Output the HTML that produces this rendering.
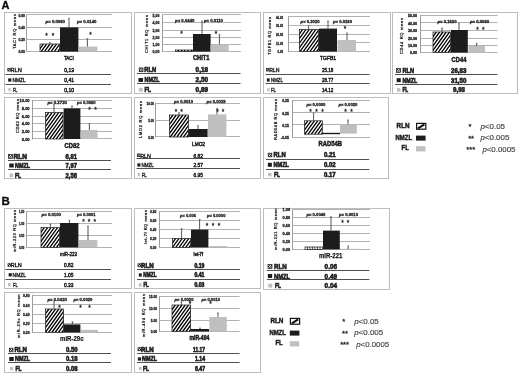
<!DOCTYPE html>
<html lang="en"><head><meta charset="utf-8"><title>Figure</title>
<style>html,body{margin:0;padding:0;background:#fff;}svg{display:block;}text{font-family:'Liberation Sans', sans-serif;}</style>
</head><body>
<svg width="520" height="375" viewBox="0 0 520 375" font-family="Liberation Sans, sans-serif" fill="#111">
<defs>
</defs>
<rect width="520" height="375" fill="#fff"/>
<g stroke="#222" stroke-width="0.32">
<text x="1.60" y="9.10" font-size="11" font-weight="bold" fill="#000">A</text>
<text x="1.60" y="204.60" font-size="11.5" font-weight="bold" fill="#000">B</text>
<rect x="4.50" y="12.50" width="127.00" height="81.00" fill="#fff" stroke="#bdbdbd" stroke-width="1"/>
<line x1="27.00" y1="14.50" x2="112.00" y2="14.50" stroke="#b2b2b2" stroke-width="1"/>
<line x1="27.00" y1="27.50" x2="112.00" y2="27.50" stroke="#b2b2b2" stroke-width="1"/>
<line x1="27.00" y1="39.50" x2="112.00" y2="39.50" stroke="#b2b2b2" stroke-width="1"/>
<line x1="27.00" y1="51.50" x2="112.00" y2="51.50" stroke="#b2b2b2" stroke-width="1"/>
<line x1="26.50" y1="14.50" x2="26.50" y2="52.10" stroke="#9c9c9c" stroke-width="1"/>
<text x="18.40" y="16.51" font-size="4.2" font-weight="bold" textLength="6.60" lengthAdjust="spacingAndGlyphs" fill="#222">0.60</text>
<text x="18.40" y="28.91" font-size="4.2" font-weight="bold" textLength="6.60" lengthAdjust="spacingAndGlyphs" fill="#222">0.40</text>
<text x="18.40" y="41.11" font-size="4.2" font-weight="bold" textLength="6.60" lengthAdjust="spacingAndGlyphs" fill="#222">0.20</text>
<text x="18.40" y="53.11" font-size="4.2" font-weight="bold" textLength="6.60" lengthAdjust="spacingAndGlyphs" fill="#222">0.00</text>
<text transform="translate(16.44,31.50) rotate(-90)" font-size="4.0" text-anchor="middle" textLength="35.00" lengthAdjust="spacing" fill="#333" stroke-width="0.25">TACI RQ mean</text>
<clipPath id="hc1"><rect x="40.00" y="44.00" width="19.60" height="7.60"/></clipPath>
<rect x="40.00" y="44.00" width="19.60" height="7.60" fill="#fff" stroke="none"/>
<path clip-path="url(#hc1)" d="M34.55,51.60 L40.00,44.00 M37.85,51.60 L43.30,44.00 M41.15,51.60 L46.60,44.00 M44.45,51.60 L49.90,44.00 M47.75,51.60 L53.20,44.00 M51.05,51.60 L56.50,44.00 M54.35,51.60 L59.80,44.00 M57.65,51.60 L63.10,44.00 M60.95,51.60 L66.40,44.00" stroke="#000" stroke-width="1.3" fill="none"/>
<rect x="40.00" y="44.00" width="19.60" height="7.60" fill="none" stroke="#111" stroke-width="0.7"/>
<rect x="60.00" y="27.40" width="18.40" height="24.20" fill="#1c1c1c" stroke="none"/>
<rect x="78.60" y="46.60" width="18.80" height="5.00" fill="#bfbfbf" stroke="none"/>
<line x1="50.00" y1="42.40" x2="50.00" y2="44.00" stroke="#444" stroke-width="0.9"/>
<line x1="49.10" y1="42.40" x2="50.90" y2="42.40" stroke="#444" stroke-width="0.6"/>
<line x1="69.00" y1="18.40" x2="69.00" y2="27.40" stroke="#444" stroke-width="0.9"/>
<line x1="68.10" y1="18.40" x2="69.90" y2="18.40" stroke="#444" stroke-width="0.6"/>
<line x1="87.40" y1="38.60" x2="87.40" y2="46.60" stroke="#444" stroke-width="0.9"/>
<line x1="86.50" y1="38.60" x2="88.30" y2="38.60" stroke="#444" stroke-width="0.6"/>
<text x="45.60" y="22.83" font-size="4.25" font-weight="bold" textLength="19.40" lengthAdjust="spacingAndGlyphs" fill="#222" stroke-width="0.3"><tspan font-style="italic">p</tspan>= 0.0060</text>
<text x="77.00" y="22.83" font-size="4.25" font-weight="bold" textLength="19.40" lengthAdjust="spacingAndGlyphs" fill="#222" stroke-width="0.3"><tspan font-style="italic">p</tspan>= 0.0140</text>
<text x="46.60" y="37.94" font-size="6.5" text-anchor="middle" fill="#222" stroke-width="0.3">*</text>
<text x="53.00" y="37.94" font-size="6.5" text-anchor="middle" fill="#222" stroke-width="0.3">*</text>
<text x="90.60" y="37.34" font-size="6.5" text-anchor="middle" fill="#222" stroke-width="0.3">*</text>
<text x="63.90" y="59.74" font-size="6.216" textLength="9.90" lengthAdjust="spacingAndGlyphs" stroke-width="0.5">TACI</text>
<line x1="5.40" y1="74.50" x2="111.00" y2="74.50" stroke="#505050" stroke-width="1.0"/>
<line x1="5.40" y1="84.50" x2="111.00" y2="84.50" stroke="#505050" stroke-width="1.0"/>
<clipPath id="hc2"><rect x="7.80" y="68.55" width="2.50" height="2.50"/></clipPath>
<rect x="7.80" y="68.55" width="2.50" height="2.50" fill="#fff" stroke="none"/>
<path clip-path="url(#hc2)" d="M5.70,71.05 L7.80,68.55 M7.80,71.05 L9.90,68.55 M9.90,71.05 L12.00,68.55 M12.00,71.05 L14.10,68.55" stroke="#000" stroke-width="0.95" fill="none"/>
<rect x="7.80" y="68.55" width="2.50" height="2.50" fill="none" stroke="#111" stroke-width="0.7"/>
<text x="10.50" y="72.04" font-size="6.216" textLength="11.30" lengthAdjust="spacingAndGlyphs" stroke-width="0.4">RLN</text>
<text x="64.30" y="72.04" font-size="6.216" textLength="9.70" lengthAdjust="spacingAndGlyphs" stroke-width="0.5">0,13</text>
<rect x="8.15" y="78.35" width="3.20" height="3.30" fill="#1c1c1c" stroke="none"/>
<text x="12.40" y="82.24" font-size="6.216" textLength="13.20" lengthAdjust="spacingAndGlyphs" stroke-width="0.4">NMZL</text>
<text x="64.30" y="82.24" font-size="6.216" textLength="9.70" lengthAdjust="spacingAndGlyphs" stroke-width="0.5">0,41</text>
<rect x="8.35" y="87.95" width="2.30" height="3.30" fill="#bfbfbf" stroke="none"/>
<text x="12.90" y="91.84" font-size="6.216" textLength="4.50" lengthAdjust="spacingAndGlyphs" stroke-width="0.4">FL</text>
<text x="64.30" y="91.84" font-size="6.216" textLength="9.70" lengthAdjust="spacingAndGlyphs" stroke-width="0.5">0,10</text>
<rect x="134.50" y="12.50" width="126.00" height="81.00" fill="#fff" stroke="#bdbdbd" stroke-width="1"/>
<line x1="162.40" y1="14.50" x2="241.00" y2="14.50" stroke="#b2b2b2" stroke-width="1"/>
<line x1="162.40" y1="22.50" x2="241.00" y2="22.50" stroke="#b2b2b2" stroke-width="1"/>
<line x1="162.40" y1="30.50" x2="241.00" y2="30.50" stroke="#b2b2b2" stroke-width="1"/>
<line x1="162.40" y1="37.50" x2="241.00" y2="37.50" stroke="#b2b2b2" stroke-width="1"/>
<line x1="162.40" y1="44.50" x2="241.00" y2="44.50" stroke="#b2b2b2" stroke-width="1"/>
<line x1="162.40" y1="51.50" x2="241.00" y2="51.50" stroke="#b2b2b2" stroke-width="1"/>
<line x1="162.50" y1="14.50" x2="162.50" y2="52.10" stroke="#9c9c9c" stroke-width="1"/>
<text x="152.60" y="16.51" font-size="4.2" font-weight="bold" textLength="6.80" lengthAdjust="spacingAndGlyphs" fill="#222">5,00</text>
<text x="152.60" y="24.11" font-size="4.2" font-weight="bold" textLength="6.80" lengthAdjust="spacingAndGlyphs" fill="#222">4,00</text>
<text x="152.60" y="31.51" font-size="4.2" font-weight="bold" textLength="6.80" lengthAdjust="spacingAndGlyphs" fill="#222">3,00</text>
<text x="152.60" y="38.91" font-size="4.2" font-weight="bold" textLength="6.80" lengthAdjust="spacingAndGlyphs" fill="#222">2,00</text>
<text x="152.60" y="45.91" font-size="4.2" font-weight="bold" textLength="6.80" lengthAdjust="spacingAndGlyphs" fill="#222">1,00</text>
<text x="152.60" y="53.11" font-size="4.2" font-weight="bold" textLength="6.80" lengthAdjust="spacingAndGlyphs" fill="#222">0,00</text>
<text transform="translate(147.84,34.00) rotate(-90)" font-size="4.0" text-anchor="middle" textLength="38.00" lengthAdjust="spacing" fill="#333" stroke-width="0.25">CHIT1 RQ mean</text>
<clipPath id="hc3"><rect x="175.40" y="50.00" width="17.60" height="1.60"/></clipPath>
<rect x="175.40" y="50.00" width="17.60" height="1.60" fill="#fff" stroke="none"/>
<path clip-path="url(#hc3)" d="M174.25,51.60 L175.40,50.00 M177.55,51.60 L178.70,50.00 M180.85,51.60 L182.00,50.00 M184.15,51.60 L185.30,50.00 M187.45,51.60 L188.60,50.00 M190.75,51.60 L191.90,50.00 M194.05,51.60 L195.20,50.00" stroke="#000" stroke-width="1.3" fill="none"/>
<rect x="175.40" y="50.00" width="17.60" height="1.60" fill="none" stroke="#111" stroke-width="0.7"/>
<rect x="193.00" y="34.00" width="17.60" height="17.60" fill="#1c1c1c" stroke="none"/>
<rect x="210.60" y="44.40" width="18.00" height="7.20" fill="#bfbfbf" stroke="none"/>
<line x1="202.00" y1="21.00" x2="202.00" y2="34.00" stroke="#444" stroke-width="0.9"/>
<line x1="201.10" y1="21.00" x2="202.90" y2="21.00" stroke="#444" stroke-width="0.6"/>
<line x1="219.40" y1="34.40" x2="219.40" y2="44.40" stroke="#444" stroke-width="0.9"/>
<line x1="218.50" y1="34.40" x2="220.30" y2="34.40" stroke="#444" stroke-width="0.6"/>
<text x="175.00" y="21.63" font-size="4.25" font-weight="bold" textLength="19.40" lengthAdjust="spacingAndGlyphs" fill="#222" stroke-width="0.3"><tspan font-style="italic">p</tspan>= 0.0440</text>
<text x="204.00" y="21.63" font-size="4.25" font-weight="bold" textLength="19.00" lengthAdjust="spacingAndGlyphs" fill="#222" stroke-width="0.3"><tspan font-style="italic">p</tspan>= 0.0110</text>
<text x="181.60" y="35.64" font-size="6.5" text-anchor="middle" fill="#222" stroke-width="0.3">*</text>
<text x="216.00" y="35.64" font-size="6.5" text-anchor="middle" fill="#222" stroke-width="0.3">*</text>
<text x="193.00" y="60.40" font-size="6.66" font-weight="bold" textLength="16.40" lengthAdjust="spacingAndGlyphs" stroke-width="0.5">CHIT1</text>
<line x1="137.00" y1="73.50" x2="240.50" y2="73.50" stroke="#505050" stroke-width="1.0"/>
<line x1="137.00" y1="83.50" x2="240.50" y2="83.50" stroke="#505050" stroke-width="1.0"/>
<clipPath id="hc4"><rect x="139.20" y="67.90" width="3.80" height="3.80"/></clipPath>
<rect x="139.20" y="67.90" width="3.80" height="3.80" fill="#fff" stroke="none"/>
<path clip-path="url(#hc4)" d="M136.01,71.70 L139.20,67.90 M138.11,71.70 L141.30,67.90 M140.21,71.70 L143.40,67.90 M142.31,71.70 L145.50,67.90 M144.41,71.70 L147.60,67.90" stroke="#000" stroke-width="0.95" fill="none"/>
<rect x="139.20" y="67.90" width="3.80" height="3.80" fill="none" stroke="#111" stroke-width="0.7"/>
<text x="144.20" y="72.24" font-size="6.771" font-weight="bold" textLength="12.00" lengthAdjust="spacingAndGlyphs" stroke-width="0.6">RLN</text>
<text x="195.60" y="72.24" font-size="6.771" font-weight="bold" textLength="12.40" lengthAdjust="spacingAndGlyphs" stroke-width="0.6">0,18</text>
<rect x="138.45" y="78.00" width="4.60" height="4.00" fill="#1c1c1c" stroke="none"/>
<text x="144.50" y="82.44" font-size="6.771" font-weight="bold" textLength="15.00" lengthAdjust="spacingAndGlyphs" stroke-width="0.6">NMZL</text>
<text x="195.60" y="82.44" font-size="6.771" font-weight="bold" textLength="12.40" lengthAdjust="spacingAndGlyphs" stroke-width="0.6">2,50</text>
<rect x="138.85" y="87.90" width="3.80" height="3.80" fill="#bfbfbf" stroke="none"/>
<text x="144.50" y="92.24" font-size="6.771" font-weight="bold" textLength="6.50" lengthAdjust="spacingAndGlyphs" stroke-width="0.6">FL</text>
<text x="195.60" y="92.24" font-size="6.771" font-weight="bold" textLength="12.40" lengthAdjust="spacingAndGlyphs" stroke-width="0.6">0,89</text>
<rect x="263.50" y="12.50" width="127.00" height="81.00" fill="#fff" stroke="#bdbdbd" stroke-width="1"/>
<line x1="288.00" y1="16.50" x2="370.00" y2="16.50" stroke="#b2b2b2" stroke-width="1"/>
<line x1="288.00" y1="25.50" x2="370.00" y2="25.50" stroke="#b2b2b2" stroke-width="1"/>
<line x1="288.00" y1="34.50" x2="370.00" y2="34.50" stroke="#b2b2b2" stroke-width="1"/>
<line x1="288.00" y1="42.50" x2="370.00" y2="42.50" stroke="#b2b2b2" stroke-width="1"/>
<line x1="288.00" y1="51.50" x2="370.00" y2="51.50" stroke="#b2b2b2" stroke-width="1"/>
<line x1="288.50" y1="16.50" x2="288.50" y2="52.10" stroke="#9c9c9c" stroke-width="1"/>
<text x="276.00" y="18.51" font-size="4.2" font-weight="bold" textLength="7.00" lengthAdjust="spacingAndGlyphs" fill="#222">40.00</text>
<text x="276.00" y="26.91" font-size="4.2" font-weight="bold" textLength="7.00" lengthAdjust="spacingAndGlyphs" fill="#222">30.00</text>
<text x="276.00" y="35.51" font-size="4.2" font-weight="bold" textLength="7.00" lengthAdjust="spacingAndGlyphs" fill="#222">20.00</text>
<text x="276.00" y="44.51" font-size="4.2" font-weight="bold" textLength="7.00" lengthAdjust="spacingAndGlyphs" fill="#222">10.00</text>
<text x="277.56" y="53.11" font-size="4.2" font-weight="bold" textLength="5.44" lengthAdjust="spacingAndGlyphs" fill="#222">0.00</text>
<text transform="translate(271.44,36.00) rotate(-90)" font-size="4.0" text-anchor="middle" textLength="38.00" lengthAdjust="spacing" fill="#333" stroke-width="0.25">TGFB1 RQ mean</text>
<clipPath id="hc5"><rect x="299.40" y="29.40" width="19.20" height="22.20"/></clipPath>
<rect x="299.40" y="29.40" width="19.20" height="22.20" fill="#fff" stroke="none"/>
<path clip-path="url(#hc5)" d="M283.47,51.60 L299.40,29.40 M286.77,51.60 L302.70,29.40 M290.07,51.60 L306.00,29.40 M293.37,51.60 L309.30,29.40 M296.67,51.60 L312.60,29.40 M299.97,51.60 L315.90,29.40 M303.27,51.60 L319.20,29.40 M306.57,51.60 L322.50,29.40 M309.87,51.60 L325.80,29.40 M313.17,51.60 L329.10,29.40 M316.47,51.60 L332.40,29.40 M319.77,51.60 L335.70,29.40" stroke="#000" stroke-width="1.3" fill="none"/>
<rect x="299.40" y="29.40" width="19.20" height="22.20" fill="none" stroke="#111" stroke-width="0.7"/>
<rect x="319.00" y="28.60" width="18.00" height="23.00" fill="#1c1c1c" stroke="none"/>
<rect x="337.60" y="40.00" width="18.40" height="11.60" fill="#bfbfbf" stroke="none"/>
<line x1="308.60" y1="25.60" x2="308.60" y2="29.40" stroke="#444" stroke-width="0.9"/>
<line x1="307.70" y1="25.60" x2="309.50" y2="25.60" stroke="#444" stroke-width="0.6"/>
<line x1="328.00" y1="21.00" x2="328.00" y2="28.60" stroke="#444" stroke-width="0.9"/>
<line x1="327.10" y1="21.00" x2="328.90" y2="21.00" stroke="#444" stroke-width="0.6"/>
<line x1="347.00" y1="33.00" x2="347.00" y2="40.00" stroke="#444" stroke-width="0.9"/>
<line x1="346.10" y1="33.00" x2="347.90" y2="33.00" stroke="#444" stroke-width="0.6"/>
<text x="300.60" y="22.83" font-size="4.25" font-weight="bold" textLength="19.00" lengthAdjust="spacingAndGlyphs" fill="#222" stroke-width="0.3"><tspan font-style="italic">p</tspan>= 0.3020</text>
<text x="333.00" y="22.83" font-size="4.25" font-weight="bold" textLength="19.00" lengthAdjust="spacingAndGlyphs" fill="#222" stroke-width="0.3"><tspan font-style="italic">p</tspan>= 0.0160</text>
<text x="345.00" y="31.24" font-size="6.5" text-anchor="middle" fill="#222" stroke-width="0.3">*</text>
<text x="320.00" y="60.44" font-size="6.216" textLength="16.00" lengthAdjust="spacingAndGlyphs" stroke-width="0.5">TGFB1</text>
<line x1="265.50" y1="74.50" x2="369.60" y2="74.50" stroke="#505050" stroke-width="1.0"/>
<line x1="265.50" y1="83.50" x2="369.60" y2="83.50" stroke="#505050" stroke-width="1.0"/>
<clipPath id="hc6"><rect x="266.60" y="68.60" width="2.40" height="2.40"/></clipPath>
<rect x="266.60" y="68.60" width="2.40" height="2.40" fill="#fff" stroke="none"/>
<path clip-path="url(#hc6)" d="M264.58,71.00 L266.60,68.60 M266.68,71.00 L268.70,68.60 M268.78,71.00 L270.80,68.60 M270.88,71.00 L272.90,68.60" stroke="#000" stroke-width="0.95" fill="none"/>
<rect x="266.60" y="68.60" width="2.40" height="2.40" fill="none" stroke="#111" stroke-width="0.7"/>
<text x="269.20" y="72.04" font-size="6.216" textLength="10.40" lengthAdjust="spacingAndGlyphs" stroke-width="0.4">RLN</text>
<text x="322.00" y="72.04" font-size="6.216" textLength="11.40" lengthAdjust="spacingAndGlyphs" stroke-width="0.5">25.18</text>
<rect x="266.85" y="78.35" width="2.80" height="3.30" fill="#1c1c1c" stroke="none"/>
<text x="271.00" y="82.24" font-size="6.216" textLength="11.80" lengthAdjust="spacingAndGlyphs" stroke-width="0.4">NMZL</text>
<text x="322.00" y="82.24" font-size="6.216" textLength="11.40" lengthAdjust="spacingAndGlyphs" stroke-width="0.5">28.77</text>
<rect x="267.35" y="88.15" width="2.30" height="3.30" fill="#bfbfbf" stroke="none"/>
<text x="271.00" y="92.04" font-size="6.216" textLength="5.00" lengthAdjust="spacingAndGlyphs" stroke-width="0.4">FL</text>
<text x="322.00" y="92.04" font-size="6.216" textLength="11.40" lengthAdjust="spacingAndGlyphs" stroke-width="0.5">14.12</text>
<rect x="392.50" y="12.50" width="125.00" height="81.00" fill="#fff" stroke="#bdbdbd" stroke-width="1"/>
<line x1="420.00" y1="15.50" x2="497.60" y2="15.50" stroke="#b2b2b2" stroke-width="1"/>
<line x1="420.00" y1="22.50" x2="497.60" y2="22.50" stroke="#b2b2b2" stroke-width="1"/>
<line x1="420.00" y1="30.50" x2="497.60" y2="30.50" stroke="#b2b2b2" stroke-width="1"/>
<line x1="420.00" y1="38.50" x2="497.60" y2="38.50" stroke="#b2b2b2" stroke-width="1"/>
<line x1="420.00" y1="45.50" x2="497.60" y2="45.50" stroke="#b2b2b2" stroke-width="1"/>
<line x1="420.00" y1="52.50" x2="497.60" y2="52.50" stroke="#b2b2b2" stroke-width="1"/>
<line x1="420.50" y1="14.90" x2="420.50" y2="53.10" stroke="#9c9c9c" stroke-width="1"/>
<text x="408.00" y="16.91" font-size="4.2" font-weight="bold" textLength="9.00" lengthAdjust="spacingAndGlyphs" fill="#222">50.00</text>
<text x="408.00" y="24.51" font-size="4.2" font-weight="bold" textLength="9.00" lengthAdjust="spacingAndGlyphs" fill="#222">40.00</text>
<text x="408.00" y="31.91" font-size="4.2" font-weight="bold" textLength="9.00" lengthAdjust="spacingAndGlyphs" fill="#222">30.00</text>
<text x="408.00" y="39.51" font-size="4.2" font-weight="bold" textLength="9.00" lengthAdjust="spacingAndGlyphs" fill="#222">20.00</text>
<text x="408.00" y="46.91" font-size="4.2" font-weight="bold" textLength="9.00" lengthAdjust="spacingAndGlyphs" fill="#222">10.00</text>
<text x="410.00" y="54.11" font-size="4.2" font-weight="bold" textLength="7.00" lengthAdjust="spacingAndGlyphs" fill="#222">0.00</text>
<text transform="translate(403.04,36.00) rotate(-90)" font-size="4.0" text-anchor="middle" textLength="36.00" lengthAdjust="spacing" fill="#333" stroke-width="0.25">CD44 RQ mean</text>
<clipPath id="hc7"><rect x="433.00" y="32.00" width="17.60" height="20.60"/></clipPath>
<rect x="433.00" y="32.00" width="17.60" height="20.60" fill="#fff" stroke="none"/>
<path clip-path="url(#hc7)" d="M418.22,52.60 L433.00,32.00 M421.52,52.60 L436.30,32.00 M424.82,52.60 L439.60,32.00 M428.12,52.60 L442.90,32.00 M431.42,52.60 L446.20,32.00 M434.72,52.60 L449.50,32.00 M438.02,52.60 L452.80,32.00 M441.32,52.60 L456.10,32.00 M444.62,52.60 L459.40,32.00 M447.92,52.60 L462.70,32.00 M451.22,52.60 L466.00,32.00" stroke="#000" stroke-width="1.3" fill="none"/>
<rect x="433.00" y="32.00" width="17.60" height="20.60" fill="none" stroke="#111" stroke-width="0.7"/>
<rect x="451.00" y="30.00" width="16.80" height="22.60" fill="#1c1c1c" stroke="none"/>
<rect x="468.40" y="46.00" width="16.60" height="6.60" fill="#bfbfbf" stroke="none"/>
<line x1="442.00" y1="28.00" x2="442.00" y2="32.00" stroke="#444" stroke-width="0.9"/>
<line x1="441.10" y1="28.00" x2="442.90" y2="28.00" stroke="#444" stroke-width="0.6"/>
<line x1="459.00" y1="23.60" x2="459.00" y2="30.00" stroke="#444" stroke-width="0.9"/>
<line x1="458.10" y1="23.60" x2="459.90" y2="23.60" stroke="#444" stroke-width="0.6"/>
<line x1="476.60" y1="43.40" x2="476.60" y2="46.00" stroke="#444" stroke-width="0.9"/>
<line x1="475.70" y1="43.40" x2="477.50" y2="43.40" stroke="#444" stroke-width="0.6"/>
<text x="437.40" y="23.33" font-size="4.25" font-weight="bold" textLength="19.20" lengthAdjust="spacingAndGlyphs" fill="#222" stroke-width="0.3"><tspan font-style="italic">p</tspan>= 0.1620</text>
<text x="470.00" y="23.33" font-size="4.25" font-weight="bold" textLength="19.20" lengthAdjust="spacingAndGlyphs" fill="#222" stroke-width="0.3"><tspan font-style="italic">p</tspan>= 0.0060</text>
<text x="477.50" y="31.94" font-size="6.5" text-anchor="middle" fill="#222" stroke-width="0.3">*</text>
<text x="483.20" y="31.94" font-size="6.5" text-anchor="middle" fill="#222" stroke-width="0.3">*</text>
<text x="451.60" y="62.20" font-size="7.7700000000000005" font-weight="bold" textLength="14.80" lengthAdjust="spacingAndGlyphs" stroke-width="0.5">CD44</text>
<line x1="395.00" y1="74.50" x2="497.30" y2="74.50" stroke="#505050" stroke-width="1.0"/>
<line x1="395.00" y1="84.50" x2="497.30" y2="84.50" stroke="#505050" stroke-width="1.0"/>
<clipPath id="hc8"><rect x="396.50" y="68.40" width="4.10" height="4.00"/></clipPath>
<rect x="396.50" y="68.40" width="4.10" height="4.00" fill="#fff" stroke="none"/>
<path clip-path="url(#hc8)" d="M393.14,72.40 L396.50,68.40 M395.24,72.40 L398.60,68.40 M397.34,72.40 L400.70,68.40 M399.44,72.40 L402.80,68.40 M401.54,72.40 L404.90,68.40" stroke="#000" stroke-width="0.95" fill="none"/>
<rect x="396.50" y="68.40" width="4.10" height="4.00" fill="none" stroke="#111" stroke-width="0.7"/>
<text x="402.40" y="72.92" font-size="6.993" font-weight="bold" textLength="11.60" lengthAdjust="spacingAndGlyphs" stroke-width="0.6">RLN</text>
<text x="451.00" y="72.92" font-size="6.993" font-weight="bold" textLength="15.40" lengthAdjust="spacingAndGlyphs" stroke-width="0.6">26,83</text>
<rect x="396.65" y="78.20" width="4.10" height="4.00" fill="#1c1c1c" stroke="none"/>
<text x="402.40" y="82.72" font-size="6.993" font-weight="bold" textLength="14.90" lengthAdjust="spacingAndGlyphs" stroke-width="0.6">NMZL</text>
<text x="451.00" y="82.72" font-size="6.993" font-weight="bold" textLength="15.40" lengthAdjust="spacingAndGlyphs" stroke-width="0.6">31,50</text>
<rect x="396.85" y="88.10" width="3.60" height="3.60" fill="#bfbfbf" stroke="none"/>
<text x="402.40" y="92.42" font-size="6.993" font-weight="bold" textLength="5.80" lengthAdjust="spacingAndGlyphs" stroke-width="0.6">FL</text>
<text x="453.00" y="92.42" font-size="6.993" font-weight="bold" textLength="12.00" lengthAdjust="spacingAndGlyphs" stroke-width="0.6">9,93</text>
<rect x="4.50" y="97.50" width="127.00" height="81.00" fill="#fff" stroke="#bdbdbd" stroke-width="1"/>
<line x1="32.00" y1="100.50" x2="112.00" y2="100.50" stroke="#b2b2b2" stroke-width="1"/>
<line x1="32.00" y1="108.50" x2="112.00" y2="108.50" stroke="#b2b2b2" stroke-width="1"/>
<line x1="32.00" y1="116.50" x2="112.00" y2="116.50" stroke="#b2b2b2" stroke-width="1"/>
<line x1="32.00" y1="123.50" x2="112.00" y2="123.50" stroke="#b2b2b2" stroke-width="1"/>
<line x1="32.00" y1="131.50" x2="112.00" y2="131.50" stroke="#b2b2b2" stroke-width="1"/>
<line x1="32.00" y1="138.50" x2="112.00" y2="138.50" stroke="#b2b2b2" stroke-width="1"/>
<line x1="32.50" y1="100.10" x2="32.50" y2="139.50" stroke="#9c9c9c" stroke-width="1"/>
<text x="19.60" y="102.11" font-size="4.2" font-weight="bold" textLength="10.00" lengthAdjust="spacingAndGlyphs" fill="#222">10.00</text>
<text x="21.82" y="109.91" font-size="4.2" font-weight="bold" textLength="7.78" lengthAdjust="spacingAndGlyphs" fill="#222">8.00</text>
<text x="21.82" y="117.51" font-size="4.2" font-weight="bold" textLength="7.78" lengthAdjust="spacingAndGlyphs" fill="#222">6.00</text>
<text x="21.82" y="125.11" font-size="4.2" font-weight="bold" textLength="7.78" lengthAdjust="spacingAndGlyphs" fill="#222">4.00</text>
<text x="21.82" y="132.91" font-size="4.2" font-weight="bold" textLength="7.78" lengthAdjust="spacingAndGlyphs" fill="#222">2.00</text>
<text x="21.82" y="140.51" font-size="4.2" font-weight="bold" textLength="7.78" lengthAdjust="spacingAndGlyphs" fill="#222">0.00</text>
<text transform="translate(19.44,116.00) rotate(-90)" font-size="4.0" text-anchor="middle" textLength="34.00" lengthAdjust="spacing" fill="#333" stroke-width="0.25">CD82 RQ mean</text>
<clipPath id="hc9"><rect x="45.60" y="112.40" width="17.40" height="26.60"/></clipPath>
<rect x="45.60" y="112.40" width="17.40" height="26.60" fill="#fff" stroke="none"/>
<path clip-path="url(#hc9)" d="M26.52,139.00 L45.60,112.40 M29.82,139.00 L48.90,112.40 M33.12,139.00 L52.20,112.40 M36.42,139.00 L55.50,112.40 M39.72,139.00 L58.80,112.40 M43.02,139.00 L62.10,112.40 M46.32,139.00 L65.40,112.40 M49.62,139.00 L68.70,112.40 M52.92,139.00 L72.00,112.40 M56.22,139.00 L75.30,112.40 M59.52,139.00 L78.60,112.40 M62.82,139.00 L81.90,112.40 M66.12,139.00 L85.20,112.40" stroke="#000" stroke-width="1.3" fill="none"/>
<rect x="45.60" y="112.40" width="17.40" height="26.60" fill="none" stroke="#111" stroke-width="0.7"/>
<rect x="63.60" y="108.40" width="16.80" height="30.60" fill="#1c1c1c" stroke="none"/>
<rect x="81.00" y="130.00" width="16.60" height="9.00" fill="#bfbfbf" stroke="none"/>
<line x1="54.00" y1="104.00" x2="54.00" y2="112.40" stroke="#444" stroke-width="0.9"/>
<line x1="53.10" y1="104.00" x2="54.90" y2="104.00" stroke="#444" stroke-width="0.6"/>
<line x1="72.00" y1="106.00" x2="72.00" y2="108.40" stroke="#444" stroke-width="0.9"/>
<line x1="71.10" y1="106.00" x2="72.90" y2="106.00" stroke="#444" stroke-width="0.6"/>
<line x1="89.40" y1="123.60" x2="89.40" y2="130.00" stroke="#444" stroke-width="0.9"/>
<line x1="88.50" y1="123.60" x2="90.30" y2="123.60" stroke="#444" stroke-width="0.6"/>
<text x="47.40" y="103.73" font-size="4.25" font-weight="bold" textLength="19.60" lengthAdjust="spacingAndGlyphs" fill="#222" stroke-width="0.3"><tspan font-style="italic">p</tspan>= 0.3730</text>
<text x="77.00" y="103.73" font-size="4.25" font-weight="bold" textLength="18.60" lengthAdjust="spacingAndGlyphs" fill="#222" stroke-width="0.3"><tspan font-style="italic">p</tspan>= 0.0060</text>
<text x="89.40" y="112.24" font-size="6.5" text-anchor="middle" fill="#222" stroke-width="0.3">*</text>
<text x="95.40" y="112.24" font-size="6.5" text-anchor="middle" fill="#222" stroke-width="0.3">*</text>
<text x="64.40" y="147.80" font-size="7.7700000000000005" font-weight="bold" textLength="15.20" lengthAdjust="spacingAndGlyphs" stroke-width="0.5">CD82</text>
<line x1="8.00" y1="160.50" x2="111.00" y2="160.50" stroke="#505050" stroke-width="1.0"/>
<line x1="8.00" y1="169.50" x2="111.00" y2="169.50" stroke="#505050" stroke-width="1.0"/>
<clipPath id="hc10"><rect x="8.40" y="154.40" width="4.00" height="4.00"/></clipPath>
<rect x="8.40" y="154.40" width="4.00" height="4.00" fill="#fff" stroke="none"/>
<path clip-path="url(#hc10)" d="M5.04,158.40 L8.40,154.40 M7.14,158.40 L10.50,154.40 M9.24,158.40 L12.60,154.40 M11.34,158.40 L14.70,154.40 M13.44,158.40 L16.80,154.40" stroke="#000" stroke-width="0.95" fill="none"/>
<rect x="8.40" y="154.40" width="4.00" height="4.00" fill="none" stroke="#111" stroke-width="0.7"/>
<text x="13.60" y="158.84" font-size="6.771" font-weight="bold" textLength="13.40" lengthAdjust="spacingAndGlyphs" stroke-width="0.6">RLN</text>
<text x="65.60" y="158.84" font-size="6.771" font-weight="bold" textLength="11.40" lengthAdjust="spacingAndGlyphs" stroke-width="0.6">6,81</text>
<rect x="9.25" y="163.50" width="4.50" height="4.00" fill="#1c1c1c" stroke="none"/>
<text x="15.00" y="167.94" font-size="6.771" font-weight="bold" textLength="15.00" lengthAdjust="spacingAndGlyphs" stroke-width="0.6">NMZL</text>
<text x="65.60" y="167.94" font-size="6.771" font-weight="bold" textLength="11.40" lengthAdjust="spacingAndGlyphs" stroke-width="0.6">7,97</text>
<rect x="9.45" y="173.55" width="3.70" height="3.70" fill="#bfbfbf" stroke="none"/>
<text x="15.00" y="177.84" font-size="6.771" font-weight="bold" textLength="6.00" lengthAdjust="spacingAndGlyphs" stroke-width="0.6">FL</text>
<text x="65.60" y="177.84" font-size="6.771" font-weight="bold" textLength="11.40" lengthAdjust="spacingAndGlyphs" stroke-width="0.6">2,56</text>
<rect x="134.50" y="97.50" width="126.00" height="81.00" fill="#fff" stroke="#bdbdbd" stroke-width="1"/>
<line x1="155.60" y1="103.50" x2="240.00" y2="103.50" stroke="#b2b2b2" stroke-width="1"/>
<line x1="155.60" y1="120.50" x2="240.00" y2="120.50" stroke="#b2b2b2" stroke-width="1"/>
<line x1="155.60" y1="136.50" x2="240.00" y2="136.50" stroke="#b2b2b2" stroke-width="1"/>
<line x1="155.50" y1="103.10" x2="155.50" y2="137.50" stroke="#9c9c9c" stroke-width="1"/>
<text x="146.50" y="105.11" font-size="4.2" font-weight="bold" textLength="7.50" lengthAdjust="spacingAndGlyphs" fill="#222">10.00</text>
<text x="148.17" y="121.81" font-size="4.2" font-weight="bold" textLength="5.83" lengthAdjust="spacingAndGlyphs" fill="#222">5.00</text>
<text x="148.17" y="138.51" font-size="4.2" font-weight="bold" textLength="5.83" lengthAdjust="spacingAndGlyphs" fill="#222">0.00</text>
<text transform="translate(141.94,119.50) rotate(-90)" font-size="4.0" text-anchor="middle" textLength="37.00" lengthAdjust="spacing" fill="#333" stroke-width="0.25">LMO2 RQ mean</text>
<clipPath id="hc11"><rect x="169.60" y="115.00" width="18.80" height="22.00"/></clipPath>
<rect x="169.60" y="115.00" width="18.80" height="22.00" fill="#fff" stroke="none"/>
<path clip-path="url(#hc11)" d="M153.82,137.00 L169.60,115.00 M157.12,137.00 L172.90,115.00 M160.42,137.00 L176.20,115.00 M163.72,137.00 L179.50,115.00 M167.02,137.00 L182.80,115.00 M170.32,137.00 L186.10,115.00 M173.62,137.00 L189.40,115.00 M176.92,137.00 L192.70,115.00 M180.22,137.00 L196.00,115.00 M183.52,137.00 L199.30,115.00 M186.82,137.00 L202.60,115.00 M190.12,137.00 L205.90,115.00" stroke="#000" stroke-width="1.3" fill="none"/>
<rect x="169.60" y="115.00" width="18.80" height="22.00" fill="none" stroke="#111" stroke-width="0.7"/>
<rect x="188.60" y="129.00" width="19.00" height="8.00" fill="#1c1c1c" stroke="none"/>
<rect x="208.00" y="114.40" width="18.40" height="22.60" fill="#bfbfbf" stroke="none"/>
<line x1="179.00" y1="112.60" x2="179.00" y2="115.00" stroke="#444" stroke-width="0.9"/>
<line x1="178.10" y1="112.60" x2="179.90" y2="112.60" stroke="#444" stroke-width="0.6"/>
<line x1="198.00" y1="125.60" x2="198.00" y2="129.00" stroke="#444" stroke-width="0.9"/>
<line x1="197.10" y1="125.60" x2="198.90" y2="125.60" stroke="#444" stroke-width="0.6"/>
<line x1="217.00" y1="108.60" x2="217.00" y2="114.40" stroke="#444" stroke-width="0.9"/>
<line x1="216.10" y1="108.60" x2="217.90" y2="108.60" stroke="#444" stroke-width="0.6"/>
<text x="174.00" y="102.83" font-size="4.25" font-weight="bold" textLength="19.00" lengthAdjust="spacingAndGlyphs" fill="#222" stroke-width="0.3"><tspan font-style="italic">p</tspan>= 0.0010</text>
<text x="206.60" y="102.83" font-size="4.25" font-weight="bold" textLength="19.00" lengthAdjust="spacingAndGlyphs" fill="#222" stroke-width="0.3"><tspan font-style="italic">p</tspan>= 0.0029</text>
<text x="176.00" y="113.84" font-size="6.5" text-anchor="middle" fill="#222" stroke-width="0.3">*</text>
<text x="181.60" y="113.84" font-size="6.5" text-anchor="middle" fill="#222" stroke-width="0.3">*</text>
<text x="217.40" y="114.24" font-size="6.5" text-anchor="middle" fill="#222" stroke-width="0.3">*</text>
<text x="223.00" y="114.24" font-size="6.5" text-anchor="middle" fill="#222" stroke-width="0.3">*</text>
<text x="192.00" y="145.64" font-size="6.216" textLength="13.00" lengthAdjust="spacingAndGlyphs" stroke-width="0.5">LMO2</text>
<line x1="136.50" y1="158.50" x2="240.00" y2="158.50" stroke="#505050" stroke-width="1.0"/>
<line x1="136.50" y1="168.50" x2="240.00" y2="168.50" stroke="#505050" stroke-width="1.0"/>
<clipPath id="hc12"><rect x="137.30" y="153.95" width="2.70" height="2.70"/></clipPath>
<rect x="137.30" y="153.95" width="2.70" height="2.70" fill="#fff" stroke="none"/>
<path clip-path="url(#hc12)" d="M135.03,156.65 L137.30,153.95 M137.13,156.65 L139.40,153.95 M139.23,156.65 L141.50,153.95 M141.33,156.65 L143.60,153.95" stroke="#000" stroke-width="0.95" fill="none"/>
<rect x="137.30" y="153.95" width="2.70" height="2.70" fill="none" stroke="#111" stroke-width="0.7"/>
<text x="140.20" y="157.54" font-size="6.216" textLength="10.80" lengthAdjust="spacingAndGlyphs" stroke-width="0.4">RLN</text>
<text x="193.60" y="157.54" font-size="6.216" textLength="9.40" lengthAdjust="spacingAndGlyphs" stroke-width="0.5">6.82</text>
<rect x="137.35" y="163.35" width="3.00" height="3.30" fill="#1c1c1c" stroke="none"/>
<text x="141.50" y="167.24" font-size="6.216" textLength="12.30" lengthAdjust="spacingAndGlyphs" stroke-width="0.4">NMZL</text>
<text x="193.60" y="167.24" font-size="6.216" textLength="9.40" lengthAdjust="spacingAndGlyphs" stroke-width="0.5">2.57</text>
<rect x="137.85" y="172.95" width="2.20" height="3.30" fill="#bfbfbf" stroke="none"/>
<text x="141.70" y="176.84" font-size="6.216" textLength="5.00" lengthAdjust="spacingAndGlyphs" stroke-width="0.4">FL</text>
<text x="193.60" y="176.84" font-size="6.216" textLength="9.40" lengthAdjust="spacingAndGlyphs" stroke-width="0.5">6.95</text>
<rect x="263.50" y="97.50" width="125.00" height="81.00" fill="#fff" stroke="#bdbdbd" stroke-width="1"/>
<line x1="292.00" y1="100.50" x2="370.00" y2="100.50" stroke="#b2b2b2" stroke-width="1"/>
<line x1="292.00" y1="112.50" x2="370.00" y2="112.50" stroke="#b2b2b2" stroke-width="1"/>
<line x1="292.00" y1="124.50" x2="370.00" y2="124.50" stroke="#b2b2b2" stroke-width="1"/>
<line x1="292.00" y1="137.50" x2="370.00" y2="137.50" stroke="#b2b2b2" stroke-width="1"/>
<line x1="292.50" y1="100.10" x2="292.50" y2="137.90" stroke="#9c9c9c" stroke-width="1"/>
<text x="282.17" y="102.11" font-size="4.2" font-weight="bold" textLength="6.83" lengthAdjust="spacingAndGlyphs" fill="#222">0.35</text>
<text x="282.17" y="114.51" font-size="4.2" font-weight="bold" textLength="6.83" lengthAdjust="spacingAndGlyphs" fill="#222">0.25</text>
<text x="282.17" y="126.51" font-size="4.2" font-weight="bold" textLength="6.83" lengthAdjust="spacingAndGlyphs" fill="#222">0.15</text>
<text x="281.00" y="138.91" font-size="4.2" font-weight="bold" textLength="8.00" lengthAdjust="spacingAndGlyphs" fill="#222">-0.05</text>
<text transform="translate(277.04,119.50) rotate(-90)" font-size="4.0" text-anchor="middle" textLength="41.00" lengthAdjust="spacing" fill="#333" stroke-width="0.25">RAD54B RQ mean</text>
<clipPath id="hc13"><rect x="304.50" y="120.80" width="17.80" height="13.40"/></clipPath>
<rect x="304.50" y="120.80" width="17.80" height="13.40" fill="#fff" stroke="none"/>
<path clip-path="url(#hc13)" d="M294.89,134.20 L304.50,120.80 M298.19,134.20 L307.80,120.80 M301.49,134.20 L311.10,120.80 M304.79,134.20 L314.40,120.80 M308.09,134.20 L317.70,120.80 M311.39,134.20 L321.00,120.80 M314.69,134.20 L324.30,120.80 M317.99,134.20 L327.60,120.80 M321.29,134.20 L330.90,120.80 M324.59,134.20 L334.20,120.80" stroke="#000" stroke-width="1.3" fill="none"/>
<rect x="304.50" y="120.80" width="17.80" height="13.40" fill="none" stroke="#111" stroke-width="0.7"/>
<rect x="322.30" y="132.80" width="17.70" height="1.40" fill="#1c1c1c" stroke="none"/>
<rect x="340.00" y="124.40" width="16.80" height="9.20" fill="#bfbfbf" stroke="none"/>
<line x1="313.60" y1="113.00" x2="313.60" y2="120.80" stroke="#444" stroke-width="0.9"/>
<line x1="312.70" y1="113.00" x2="314.50" y2="113.00" stroke="#444" stroke-width="0.6"/>
<line x1="348.00" y1="120.00" x2="348.00" y2="124.40" stroke="#444" stroke-width="0.9"/>
<line x1="347.10" y1="120.00" x2="348.90" y2="120.00" stroke="#444" stroke-width="0.6"/>
<text x="306.40" y="105.93" font-size="4.25" font-weight="bold" textLength="19.00" lengthAdjust="spacingAndGlyphs" fill="#222" stroke-width="0.3"><tspan font-style="italic">p</tspan>= 0.0000</text>
<text x="338.40" y="105.93" font-size="4.25" font-weight="bold" textLength="19.00" lengthAdjust="spacingAndGlyphs" fill="#222" stroke-width="0.3"><tspan font-style="italic">p</tspan>= 0.0020</text>
<text x="310.40" y="113.64" font-size="6.5" text-anchor="middle" fill="#222" stroke-width="0.3">*</text>
<text x="316.60" y="113.64" font-size="6.5" text-anchor="middle" fill="#222" stroke-width="0.3">*</text>
<text x="322.60" y="113.64" font-size="6.5" text-anchor="middle" fill="#222" stroke-width="0.3">*</text>
<text x="345.40" y="113.64" font-size="6.5" text-anchor="middle" fill="#222" stroke-width="0.3">*</text>
<text x="351.40" y="113.64" font-size="6.5" text-anchor="middle" fill="#222" stroke-width="0.3">*</text>
<text x="318.40" y="145.86" font-size="7.104000000000001" font-weight="bold" textLength="23.60" lengthAdjust="spacingAndGlyphs" stroke-width="0.5">RAD54B</text>
<line x1="266.00" y1="159.50" x2="369.20" y2="159.50" stroke="#505050" stroke-width="1.0"/>
<line x1="266.00" y1="169.50" x2="369.20" y2="169.50" stroke="#505050" stroke-width="1.0"/>
<clipPath id="hc14"><rect x="268.20" y="153.20" width="3.60" height="3.60"/></clipPath>
<rect x="268.20" y="153.20" width="3.60" height="3.60" fill="#fff" stroke="none"/>
<path clip-path="url(#hc14)" d="M265.18,156.80 L268.20,153.20 M267.28,156.80 L270.30,153.20 M269.38,156.80 L272.40,153.20 M271.48,156.80 L274.50,153.20 M273.58,156.80 L276.60,153.20" stroke="#000" stroke-width="0.95" fill="none"/>
<rect x="268.20" y="153.20" width="3.60" height="3.60" fill="none" stroke="#111" stroke-width="0.7"/>
<text x="273.60" y="157.44" font-size="6.771" font-weight="bold" textLength="12.00" lengthAdjust="spacingAndGlyphs" stroke-width="0.6">RLN</text>
<text x="324.00" y="157.44" font-size="6.771" font-weight="bold" textLength="11.60" lengthAdjust="spacingAndGlyphs" stroke-width="0.6">0.21</text>
<rect x="267.85" y="162.80" width="4.00" height="4.00" fill="#1c1c1c" stroke="none"/>
<text x="273.60" y="167.24" font-size="6.771" font-weight="bold" textLength="15.40" lengthAdjust="spacingAndGlyphs" stroke-width="0.6">NMZL</text>
<text x="324.00" y="167.24" font-size="6.771" font-weight="bold" textLength="11.60" lengthAdjust="spacingAndGlyphs" stroke-width="0.6">0.02</text>
<rect x="268.05" y="172.85" width="3.50" height="3.50" fill="#bfbfbf" stroke="none"/>
<text x="274.00" y="177.04" font-size="6.771" font-weight="bold" textLength="6.00" lengthAdjust="spacingAndGlyphs" stroke-width="0.6">FL</text>
<text x="324.00" y="177.04" font-size="6.771" font-weight="bold" textLength="11.60" lengthAdjust="spacingAndGlyphs" stroke-width="0.6">0.17</text>
<rect x="4.50" y="208.50" width="127.00" height="80.00" fill="#fff" stroke="#bdbdbd" stroke-width="1"/>
<line x1="27.00" y1="211.50" x2="112.00" y2="211.50" stroke="#b2b2b2" stroke-width="1"/>
<line x1="27.00" y1="223.50" x2="112.00" y2="223.50" stroke="#b2b2b2" stroke-width="1"/>
<line x1="27.00" y1="235.50" x2="112.00" y2="235.50" stroke="#b2b2b2" stroke-width="1"/>
<line x1="27.00" y1="247.50" x2="112.00" y2="247.50" stroke="#b2b2b2" stroke-width="1"/>
<line x1="26.50" y1="211.10" x2="26.50" y2="247.90" stroke="#9c9c9c" stroke-width="1"/>
<text x="19.00" y="213.11" font-size="4.2" font-weight="bold" textLength="5.40" lengthAdjust="spacingAndGlyphs" fill="#222">1.50</text>
<text x="19.00" y="225.11" font-size="4.2" font-weight="bold" textLength="5.40" lengthAdjust="spacingAndGlyphs" fill="#222">1.00</text>
<text x="19.00" y="237.11" font-size="4.2" font-weight="bold" textLength="5.40" lengthAdjust="spacingAndGlyphs" fill="#222">0.50</text>
<text x="19.00" y="248.91" font-size="4.2" font-weight="bold" textLength="5.40" lengthAdjust="spacingAndGlyphs" fill="#222">0.00</text>
<text transform="translate(15.84,231.00) rotate(-90)" font-size="4.0" text-anchor="middle" textLength="42.00" lengthAdjust="spacing" fill="#333" stroke-width="0.25">miR-223 RQ mean</text>
<clipPath id="hc15"><rect x="41.00" y="227.60" width="18.60" height="19.80"/></clipPath>
<rect x="41.00" y="227.60" width="18.60" height="19.80" fill="#fff" stroke="none"/>
<path clip-path="url(#hc15)" d="M26.80,247.40 L41.00,227.60 M30.10,247.40 L44.30,227.60 M33.40,247.40 L47.60,227.60 M36.70,247.40 L50.90,227.60 M40.00,247.40 L54.20,227.60 M43.30,247.40 L57.50,227.60 M46.60,247.40 L60.80,227.60 M49.90,247.40 L64.10,227.60 M53.20,247.40 L67.40,227.60 M56.50,247.40 L70.70,227.60 M59.80,247.40 L74.00,227.60" stroke="#000" stroke-width="1.3" fill="none"/>
<rect x="41.00" y="227.60" width="18.60" height="19.80" fill="none" stroke="#111" stroke-width="0.7"/>
<rect x="60.00" y="223.00" width="18.40" height="24.40" fill="#1c1c1c" stroke="none"/>
<rect x="79.00" y="240.00" width="18.40" height="7.40" fill="#bfbfbf" stroke="none"/>
<line x1="50.40" y1="224.00" x2="50.40" y2="227.60" stroke="#444" stroke-width="0.9"/>
<line x1="49.50" y1="224.00" x2="51.30" y2="224.00" stroke="#444" stroke-width="0.6"/>
<line x1="69.40" y1="220.40" x2="69.40" y2="223.00" stroke="#444" stroke-width="0.9"/>
<line x1="68.50" y1="220.40" x2="70.30" y2="220.40" stroke="#444" stroke-width="0.6"/>
<line x1="88.00" y1="226.00" x2="88.00" y2="240.00" stroke="#444" stroke-width="0.9"/>
<line x1="87.10" y1="226.00" x2="88.90" y2="226.00" stroke="#444" stroke-width="0.6"/>
<text x="41.60" y="216.23" font-size="4.25" font-weight="bold" textLength="19.40" lengthAdjust="spacingAndGlyphs" fill="#222" stroke-width="0.3"><tspan font-style="italic">p</tspan>= 0.0100</text>
<text x="77.00" y="216.23" font-size="4.25" font-weight="bold" textLength="18.60" lengthAdjust="spacingAndGlyphs" fill="#222" stroke-width="0.3"><tspan font-style="italic">p</tspan>= 0.0001</text>
<text x="83.60" y="223.64" font-size="6.5" text-anchor="middle" fill="#222" stroke-width="0.3">*</text>
<text x="89.00" y="223.64" font-size="6.5" text-anchor="middle" fill="#222" stroke-width="0.3">*</text>
<text x="94.70" y="223.64" font-size="6.5" text-anchor="middle" fill="#222" stroke-width="0.3">*</text>
<text x="60.00" y="255.64" font-size="6.216" textLength="17.00" lengthAdjust="spacingAndGlyphs" stroke-width="0.5">miR-223</text>
<line x1="5.40" y1="269.50" x2="111.00" y2="269.50" stroke="#505050" stroke-width="1.0"/>
<line x1="5.40" y1="279.50" x2="111.00" y2="279.50" stroke="#505050" stroke-width="1.0"/>
<clipPath id="hc16"><rect x="8.00" y="263.70" width="2.60" height="2.60"/></clipPath>
<rect x="8.00" y="263.70" width="2.60" height="2.60" fill="#fff" stroke="none"/>
<path clip-path="url(#hc16)" d="M5.82,266.30 L8.00,263.70 M7.92,266.30 L10.10,263.70 M10.02,266.30 L12.20,263.70 M12.12,266.30 L14.30,263.70" stroke="#000" stroke-width="0.95" fill="none"/>
<rect x="8.00" y="263.70" width="2.60" height="2.60" fill="none" stroke="#111" stroke-width="0.7"/>
<text x="10.80" y="267.24" font-size="6.216" textLength="11.00" lengthAdjust="spacingAndGlyphs" stroke-width="0.4">RLN</text>
<text x="64.00" y="267.24" font-size="6.216" textLength="9.40" lengthAdjust="spacingAndGlyphs" stroke-width="0.5">0.82</text>
<rect x="8.65" y="273.15" width="3.10" height="3.30" fill="#1c1c1c" stroke="none"/>
<text x="12.60" y="277.04" font-size="6.216" textLength="13.40" lengthAdjust="spacingAndGlyphs" stroke-width="0.4">NMZL</text>
<text x="64.00" y="277.04" font-size="6.216" textLength="9.40" lengthAdjust="spacingAndGlyphs" stroke-width="0.5">1.05</text>
<rect x="8.05" y="282.95" width="2.50" height="3.30" fill="#bfbfbf" stroke="none"/>
<text x="13.00" y="286.84" font-size="6.216" textLength="4.60" lengthAdjust="spacingAndGlyphs" stroke-width="0.4">FL</text>
<text x="64.00" y="286.84" font-size="6.216" textLength="9.40" lengthAdjust="spacingAndGlyphs" stroke-width="0.5">0.33</text>
<rect x="134.50" y="208.50" width="126.00" height="80.00" fill="#fff" stroke="#bdbdbd" stroke-width="1"/>
<line x1="159.40" y1="211.50" x2="240.00" y2="211.50" stroke="#b2b2b2" stroke-width="1"/>
<line x1="159.40" y1="220.50" x2="240.00" y2="220.50" stroke="#b2b2b2" stroke-width="1"/>
<line x1="159.40" y1="229.50" x2="240.00" y2="229.50" stroke="#b2b2b2" stroke-width="1"/>
<line x1="159.40" y1="238.50" x2="240.00" y2="238.50" stroke="#b2b2b2" stroke-width="1"/>
<line x1="159.40" y1="247.50" x2="240.00" y2="247.50" stroke="#b2b2b2" stroke-width="1"/>
<line x1="159.50" y1="211.10" x2="159.50" y2="247.90" stroke="#9c9c9c" stroke-width="1"/>
<text x="150.00" y="213.11" font-size="4.2" font-weight="bold" textLength="6.40" lengthAdjust="spacingAndGlyphs" fill="#222">0.80</text>
<text x="150.00" y="222.11" font-size="4.2" font-weight="bold" textLength="6.40" lengthAdjust="spacingAndGlyphs" fill="#222">0.60</text>
<text x="150.00" y="231.11" font-size="4.2" font-weight="bold" textLength="6.40" lengthAdjust="spacingAndGlyphs" fill="#222">0.40</text>
<text x="150.00" y="240.11" font-size="4.2" font-weight="bold" textLength="6.40" lengthAdjust="spacingAndGlyphs" fill="#222">0.20</text>
<text x="150.00" y="248.91" font-size="4.2" font-weight="bold" textLength="6.40" lengthAdjust="spacingAndGlyphs" fill="#222">0.00</text>
<text transform="translate(147.44,227.00) rotate(-90)" font-size="4.0" text-anchor="middle" textLength="34.00" lengthAdjust="spacing" fill="#333" stroke-width="0.25">let-7f RQ mean</text>
<clipPath id="hc17"><rect x="172.40" y="238.40" width="18.20" height="9.00"/></clipPath>
<rect x="172.40" y="238.40" width="18.20" height="9.00" fill="#fff" stroke="none"/>
<path clip-path="url(#hc17)" d="M165.94,247.40 L172.40,238.40 M169.24,247.40 L175.70,238.40 M172.54,247.40 L179.00,238.40 M175.84,247.40 L182.30,238.40 M179.14,247.40 L185.60,238.40 M182.44,247.40 L188.90,238.40 M185.74,247.40 L192.20,238.40 M189.04,247.40 L195.50,238.40 M192.34,247.40 L198.80,238.40" stroke="#000" stroke-width="1.3" fill="none"/>
<rect x="172.40" y="238.40" width="18.20" height="9.00" fill="none" stroke="#111" stroke-width="0.7"/>
<rect x="191.00" y="229.60" width="17.40" height="17.80" fill="#1c1c1c" stroke="none"/>
<rect x="209.40" y="246.00" width="17.60" height="1.40" fill="#bfbfbf" stroke="none"/>
<line x1="181.60" y1="228.60" x2="181.60" y2="238.40" stroke="#444" stroke-width="0.9"/>
<line x1="180.70" y1="228.60" x2="182.50" y2="228.60" stroke="#444" stroke-width="0.6"/>
<line x1="199.60" y1="219.40" x2="199.60" y2="229.60" stroke="#444" stroke-width="0.9"/>
<line x1="198.70" y1="219.40" x2="200.50" y2="219.40" stroke="#444" stroke-width="0.6"/>
<text x="180.00" y="216.93" font-size="4.25" font-weight="bold" textLength="16.00" lengthAdjust="spacingAndGlyphs" fill="#222" stroke-width="0.3"><tspan font-style="italic">p</tspan>= 0.006</text>
<text x="207.00" y="216.93" font-size="4.25" font-weight="bold" textLength="18.40" lengthAdjust="spacingAndGlyphs" fill="#222" stroke-width="0.3"><tspan font-style="italic">p</tspan>= 0.0000</text>
<text x="207.00" y="227.64" font-size="6.5" text-anchor="middle" fill="#222" stroke-width="0.3">*</text>
<text x="213.00" y="227.64" font-size="6.5" text-anchor="middle" fill="#222" stroke-width="0.3">*</text>
<text x="219.00" y="227.64" font-size="6.5" text-anchor="middle" fill="#222" stroke-width="0.3">*</text>
<text x="193.60" y="255.74" font-size="6.216" font-weight="bold" textLength="9.40" lengthAdjust="spacingAndGlyphs" stroke-width="0.5">let-7f</text>
<line x1="137.00" y1="269.50" x2="240.00" y2="269.50" stroke="#505050" stroke-width="1.0"/>
<line x1="137.00" y1="279.50" x2="240.00" y2="279.50" stroke="#505050" stroke-width="1.0"/>
<clipPath id="hc18"><rect x="138.00" y="263.80" width="3.00" height="3.00"/></clipPath>
<rect x="138.00" y="263.80" width="3.00" height="3.00" fill="#fff" stroke="none"/>
<path clip-path="url(#hc18)" d="M135.48,266.80 L138.00,263.80 M137.58,266.80 L140.10,263.80 M139.68,266.80 L142.20,263.80 M141.78,266.80 L144.30,263.80" stroke="#000" stroke-width="0.95" fill="none"/>
<rect x="138.00" y="263.80" width="3.00" height="3.00" fill="none" stroke="#111" stroke-width="0.7"/>
<text x="141.00" y="267.62" font-size="6.438000000000001" font-weight="bold" textLength="12.60" lengthAdjust="spacingAndGlyphs" stroke-width="0.6">RLN</text>
<text x="194.40" y="267.62" font-size="6.438000000000001" font-weight="bold" textLength="10.00" lengthAdjust="spacingAndGlyphs" stroke-width="0.6">0.19</text>
<rect x="138.85" y="273.35" width="2.90" height="3.30" fill="#1c1c1c" stroke="none"/>
<text x="143.30" y="277.32" font-size="6.438000000000001" font-weight="bold" textLength="13.30" lengthAdjust="spacingAndGlyphs" stroke-width="0.6">NMZL</text>
<text x="194.40" y="277.32" font-size="6.438000000000001" font-weight="bold" textLength="10.00" lengthAdjust="spacingAndGlyphs" stroke-width="0.6">0.41</text>
<rect x="138.85" y="283.35" width="2.80" height="3.30" fill="#bfbfbf" stroke="none"/>
<text x="143.40" y="287.32" font-size="6.438000000000001" font-weight="bold" textLength="5.20" lengthAdjust="spacingAndGlyphs" stroke-width="0.6">FL</text>
<text x="194.40" y="287.32" font-size="6.438000000000001" font-weight="bold" textLength="10.00" lengthAdjust="spacingAndGlyphs" stroke-width="0.6">0.03</text>
<rect x="263.50" y="208.50" width="126.00" height="81.00" fill="#fff" stroke="#bdbdbd" stroke-width="1"/>
<line x1="293.00" y1="209.50" x2="370.00" y2="209.50" stroke="#b2b2b2" stroke-width="1"/>
<line x1="293.00" y1="217.50" x2="370.00" y2="217.50" stroke="#b2b2b2" stroke-width="1"/>
<line x1="293.00" y1="225.50" x2="370.00" y2="225.50" stroke="#b2b2b2" stroke-width="1"/>
<line x1="293.00" y1="233.50" x2="370.00" y2="233.50" stroke="#b2b2b2" stroke-width="1"/>
<line x1="293.00" y1="241.50" x2="370.00" y2="241.50" stroke="#b2b2b2" stroke-width="1"/>
<line x1="293.00" y1="249.50" x2="370.00" y2="249.50" stroke="#b2b2b2" stroke-width="1"/>
<line x1="292.50" y1="209.10" x2="292.50" y2="249.90" stroke="#9c9c9c" stroke-width="1"/>
<text x="282.60" y="211.11" font-size="4.2" font-weight="bold" textLength="7.40" lengthAdjust="spacingAndGlyphs" fill="#222">1.00</text>
<text x="282.60" y="219.11" font-size="4.2" font-weight="bold" textLength="7.40" lengthAdjust="spacingAndGlyphs" fill="#222">0.80</text>
<text x="282.60" y="227.11" font-size="4.2" font-weight="bold" textLength="7.40" lengthAdjust="spacingAndGlyphs" fill="#222">0.60</text>
<text x="282.60" y="235.11" font-size="4.2" font-weight="bold" textLength="7.40" lengthAdjust="spacingAndGlyphs" fill="#222">0.40</text>
<text x="282.60" y="243.11" font-size="4.2" font-weight="bold" textLength="7.40" lengthAdjust="spacingAndGlyphs" fill="#222">0.20</text>
<text x="282.60" y="250.91" font-size="4.2" font-weight="bold" textLength="7.40" lengthAdjust="spacingAndGlyphs" fill="#222">0.00</text>
<text transform="translate(277.44,229.25) rotate(-90)" font-size="4.0" text-anchor="middle" textLength="41.50" lengthAdjust="spacing" fill="#333" stroke-width="0.25">miR-221 RQ mean</text>
<rect x="305.00" y="247.00" width="17.60" height="2.40" fill="#fff" stroke="#111" stroke-width="0.7"/>
<line x1="307.50" y1="247.00" x2="307.50" y2="249.40" stroke="#111" stroke-width="0.7"/>
<line x1="310.00" y1="247.00" x2="310.00" y2="249.40" stroke="#111" stroke-width="0.7"/>
<line x1="312.50" y1="247.00" x2="312.50" y2="249.40" stroke="#111" stroke-width="0.7"/>
<line x1="315.00" y1="247.00" x2="315.00" y2="249.40" stroke="#111" stroke-width="0.7"/>
<line x1="317.50" y1="247.00" x2="317.50" y2="249.40" stroke="#111" stroke-width="0.7"/>
<line x1="320.00" y1="247.00" x2="320.00" y2="249.40" stroke="#111" stroke-width="0.7"/>
<rect x="323.00" y="230.60" width="16.80" height="18.80" fill="#1c1c1c" stroke="none"/>
<rect x="339.80" y="248.80" width="18.20" height="0.60" fill="#bfbfbf" stroke="none"/>
<line x1="331.00" y1="216.60" x2="331.00" y2="230.60" stroke="#444" stroke-width="0.9"/>
<line x1="330.10" y1="216.60" x2="331.90" y2="216.60" stroke="#444" stroke-width="0.6"/>
<line x1="348.20" y1="246.00" x2="348.20" y2="249.00" stroke="#444" stroke-width="0.9"/>
<line x1="347.30" y1="246.00" x2="349.10" y2="246.00" stroke="#444" stroke-width="0.6"/>
<text x="306.40" y="215.93" font-size="4.25" font-weight="bold" textLength="19.00" lengthAdjust="spacingAndGlyphs" fill="#222" stroke-width="0.3"><tspan font-style="italic">p</tspan>= 0.0040</text>
<text x="339.00" y="215.93" font-size="4.25" font-weight="bold" textLength="19.00" lengthAdjust="spacingAndGlyphs" fill="#222" stroke-width="0.3"><tspan font-style="italic">p</tspan>= 0.0010</text>
<text x="342.50" y="224.84" font-size="6.5" text-anchor="middle" fill="#222" stroke-width="0.3">*</text>
<text x="348.00" y="224.84" font-size="6.5" text-anchor="middle" fill="#222" stroke-width="0.3">*</text>
<text x="319.00" y="258.14" font-size="7.3260000000000005" font-weight="bold" textLength="23.40" lengthAdjust="spacingAndGlyphs" stroke-width="0.25">miR-221</text>
<line x1="267.00" y1="270.50" x2="369.40" y2="270.50" stroke="#505050" stroke-width="1.0"/>
<line x1="267.00" y1="279.50" x2="369.40" y2="279.50" stroke="#505050" stroke-width="1.0"/>
<clipPath id="hc19"><rect x="268.00" y="264.60" width="4.00" height="4.00"/></clipPath>
<rect x="268.00" y="264.60" width="4.00" height="4.00" fill="#fff" stroke="none"/>
<path clip-path="url(#hc19)" d="M264.64,268.60 L268.00,264.60 M266.74,268.60 L270.10,264.60 M268.84,268.60 L272.20,264.60 M270.94,268.60 L274.30,264.60 M273.04,268.60 L276.40,264.60" stroke="#000" stroke-width="0.95" fill="none"/>
<rect x="268.00" y="264.60" width="4.00" height="4.00" fill="none" stroke="#111" stroke-width="0.7"/>
<text x="274.00" y="269.20" font-size="7.215000000000001" font-weight="bold" textLength="12.60" lengthAdjust="spacingAndGlyphs" stroke-width="0.6">RLN</text>
<text x="324.60" y="269.20" font-size="7.215000000000001" font-weight="bold" textLength="12.40" lengthAdjust="spacingAndGlyphs" stroke-width="0.6">0.06</text>
<rect x="267.85" y="274.00" width="4.30" height="4.00" fill="#1c1c1c" stroke="none"/>
<text x="274.00" y="278.60" font-size="7.215000000000001" font-weight="bold" textLength="16.00" lengthAdjust="spacingAndGlyphs" stroke-width="0.6">NMZL</text>
<text x="324.60" y="278.60" font-size="7.215000000000001" font-weight="bold" textLength="12.40" lengthAdjust="spacingAndGlyphs" stroke-width="0.6">0.49</text>
<rect x="268.25" y="283.65" width="3.90" height="3.90" fill="#bfbfbf" stroke="none"/>
<text x="275.00" y="288.20" font-size="7.215000000000001" font-weight="bold" textLength="6.00" lengthAdjust="spacingAndGlyphs" stroke-width="0.6">FL</text>
<text x="324.60" y="288.20" font-size="7.215000000000001" font-weight="bold" textLength="12.40" lengthAdjust="spacingAndGlyphs" stroke-width="0.6">0.04</text>
<rect x="4.50" y="292.50" width="127.00" height="80.00" fill="#fff" stroke="#bdbdbd" stroke-width="1"/>
<line x1="32.00" y1="295.50" x2="112.00" y2="295.50" stroke="#b2b2b2" stroke-width="1"/>
<line x1="32.00" y1="304.50" x2="112.00" y2="304.50" stroke="#b2b2b2" stroke-width="1"/>
<line x1="32.00" y1="314.50" x2="112.00" y2="314.50" stroke="#b2b2b2" stroke-width="1"/>
<line x1="32.00" y1="323.50" x2="112.00" y2="323.50" stroke="#b2b2b2" stroke-width="1"/>
<line x1="32.00" y1="332.50" x2="112.00" y2="332.50" stroke="#b2b2b2" stroke-width="1"/>
<line x1="32.50" y1="294.90" x2="32.50" y2="333.00" stroke="#9c9c9c" stroke-width="1"/>
<text x="23.00" y="296.91" font-size="4.2" font-weight="bold" textLength="6.60" lengthAdjust="spacingAndGlyphs" fill="#222">0.80</text>
<text x="23.00" y="306.51" font-size="4.2" font-weight="bold" textLength="6.60" lengthAdjust="spacingAndGlyphs" fill="#222">0.60</text>
<text x="23.00" y="315.51" font-size="4.2" font-weight="bold" textLength="6.60" lengthAdjust="spacingAndGlyphs" fill="#222">0.40</text>
<text x="23.00" y="324.91" font-size="4.2" font-weight="bold" textLength="6.60" lengthAdjust="spacingAndGlyphs" fill="#222">0.20</text>
<text x="23.00" y="334.01" font-size="4.2" font-weight="bold" textLength="6.60" lengthAdjust="spacingAndGlyphs" fill="#222">0.00</text>
<text transform="translate(19.84,316.20) rotate(-90)" font-size="4.0" text-anchor="middle" textLength="43.60" lengthAdjust="spacing" fill="#333" stroke-width="0.25">miR-29c RQ mean</text>
<clipPath id="hc20"><rect x="45.60" y="309.00" width="18.00" height="23.50"/></clipPath>
<rect x="45.60" y="309.00" width="18.00" height="23.50" fill="#fff" stroke="none"/>
<path clip-path="url(#hc20)" d="M28.74,332.50 L45.60,309.00 M32.04,332.50 L48.90,309.00 M35.34,332.50 L52.20,309.00 M38.64,332.50 L55.50,309.00 M41.94,332.50 L58.80,309.00 M45.24,332.50 L62.10,309.00 M48.54,332.50 L65.40,309.00 M51.84,332.50 L68.70,309.00 M55.14,332.50 L72.00,309.00 M58.44,332.50 L75.30,309.00 M61.74,332.50 L78.60,309.00 M65.04,332.50 L81.90,309.00" stroke="#000" stroke-width="1.3" fill="none"/>
<rect x="45.60" y="309.00" width="18.00" height="23.50" fill="none" stroke="#111" stroke-width="0.7"/>
<rect x="64.00" y="324.40" width="16.40" height="8.10" fill="#1c1c1c" stroke="none"/>
<rect x="81.00" y="329.80" width="17.00" height="2.70" fill="#bfbfbf" stroke="none"/>
<line x1="54.00" y1="301.00" x2="54.00" y2="309.00" stroke="#444" stroke-width="0.9"/>
<line x1="53.10" y1="301.00" x2="54.90" y2="301.00" stroke="#444" stroke-width="0.6"/>
<line x1="72.40" y1="321.60" x2="72.40" y2="324.40" stroke="#444" stroke-width="0.9"/>
<line x1="71.50" y1="321.60" x2="73.30" y2="321.60" stroke="#444" stroke-width="0.6"/>
<text x="47.40" y="300.53" font-size="4.25" font-weight="bold" textLength="19.60" lengthAdjust="spacingAndGlyphs" fill="#222" stroke-width="0.3"><tspan font-style="italic">p</tspan>= 0.0420</text>
<text x="73.40" y="300.53" font-size="4.25" font-weight="bold" textLength="19.00" lengthAdjust="spacingAndGlyphs" fill="#222" stroke-width="0.3"><tspan font-style="italic">p</tspan>= 0.0020</text>
<text x="59.40" y="310.04" font-size="6.5" text-anchor="middle" fill="#222" stroke-width="0.3">*</text>
<text x="80.60" y="310.04" font-size="6.5" text-anchor="middle" fill="#222" stroke-width="0.3">*</text>
<text x="89.40" y="310.04" font-size="6.5" text-anchor="middle" fill="#222" stroke-width="0.3">*</text>
<text x="60.00" y="341.40" font-size="7.215000000000001" font-weight="bold" textLength="23.60" lengthAdjust="spacingAndGlyphs" stroke-width="0.2">miR-29c</text>
<line x1="8.00" y1="353.50" x2="111.00" y2="353.50" stroke="#505050" stroke-width="1.0"/>
<line x1="8.00" y1="362.50" x2="111.00" y2="362.50" stroke="#505050" stroke-width="1.0"/>
<clipPath id="hc21"><rect x="9.40" y="348.20" width="3.60" height="3.60"/></clipPath>
<rect x="9.40" y="348.20" width="3.60" height="3.60" fill="#fff" stroke="none"/>
<path clip-path="url(#hc21)" d="M6.38,351.80 L9.40,348.20 M8.48,351.80 L11.50,348.20 M10.58,351.80 L13.60,348.20 M12.68,351.80 L15.70,348.20 M14.78,351.80 L17.80,348.20" stroke="#000" stroke-width="0.95" fill="none"/>
<rect x="9.40" y="348.20" width="3.60" height="3.60" fill="none" stroke="#111" stroke-width="0.7"/>
<text x="14.40" y="352.44" font-size="6.771" font-weight="bold" textLength="12.60" lengthAdjust="spacingAndGlyphs" stroke-width="0.6">RLN</text>
<text x="66.00" y="352.44" font-size="6.771" font-weight="bold" textLength="11.60" lengthAdjust="spacingAndGlyphs" stroke-width="0.6">0.50</text>
<rect x="9.25" y="357.00" width="4.50" height="4.00" fill="#1c1c1c" stroke="none"/>
<text x="15.00" y="361.44" font-size="6.771" font-weight="bold" textLength="15.00" lengthAdjust="spacingAndGlyphs" stroke-width="0.6">NMZL</text>
<text x="66.00" y="361.44" font-size="6.771" font-weight="bold" textLength="11.60" lengthAdjust="spacingAndGlyphs" stroke-width="0.6">0.18</text>
<rect x="9.85" y="366.95" width="3.30" height="3.30" fill="#bfbfbf" stroke="none"/>
<text x="15.60" y="371.04" font-size="6.771" font-weight="bold" textLength="6.00" lengthAdjust="spacingAndGlyphs" stroke-width="0.6">FL</text>
<text x="66.00" y="371.04" font-size="6.771" font-weight="bold" textLength="11.60" lengthAdjust="spacingAndGlyphs" stroke-width="0.6">0.08</text>
<rect x="134.50" y="292.50" width="126.00" height="80.00" fill="#fff" stroke="#bdbdbd" stroke-width="1"/>
<line x1="159.40" y1="296.50" x2="239.60" y2="296.50" stroke="#b2b2b2" stroke-width="1"/>
<line x1="159.40" y1="308.50" x2="239.60" y2="308.50" stroke="#b2b2b2" stroke-width="1"/>
<line x1="159.40" y1="320.50" x2="239.60" y2="320.50" stroke="#b2b2b2" stroke-width="1"/>
<line x1="159.40" y1="331.50" x2="239.60" y2="331.50" stroke="#b2b2b2" stroke-width="1"/>
<line x1="159.50" y1="295.90" x2="159.50" y2="332.00" stroke="#9c9c9c" stroke-width="1"/>
<text x="149.00" y="297.91" font-size="4.2" font-weight="bold" textLength="8.00" lengthAdjust="spacingAndGlyphs" fill="#222">15.00</text>
<text x="149.00" y="309.51" font-size="4.2" font-weight="bold" textLength="8.00" lengthAdjust="spacingAndGlyphs" fill="#222">10.00</text>
<text x="150.78" y="321.51" font-size="4.2" font-weight="bold" textLength="6.22" lengthAdjust="spacingAndGlyphs" fill="#222">5.00</text>
<text x="150.78" y="333.01" font-size="4.2" font-weight="bold" textLength="6.22" lengthAdjust="spacingAndGlyphs" fill="#222">0.00</text>
<text transform="translate(145.04,315.50) rotate(-90)" font-size="4.0" text-anchor="middle" textLength="43.00" lengthAdjust="spacing" fill="#333" stroke-width="0.25">miR-494 RQ mean</text>
<clipPath id="hc22"><rect x="172.00" y="305.00" width="18.60" height="26.50"/></clipPath>
<rect x="172.00" y="305.00" width="18.60" height="26.50" fill="#fff" stroke="none"/>
<path clip-path="url(#hc22)" d="M152.99,331.50 L172.00,305.00 M156.29,331.50 L175.30,305.00 M159.59,331.50 L178.60,305.00 M162.89,331.50 L181.90,305.00 M166.19,331.50 L185.20,305.00 M169.49,331.50 L188.50,305.00 M172.79,331.50 L191.80,305.00 M176.09,331.50 L195.10,305.00 M179.39,331.50 L198.40,305.00 M182.69,331.50 L201.70,305.00 M185.99,331.50 L205.00,305.00 M189.29,331.50 L208.30,305.00 M192.59,331.50 L211.60,305.00" stroke="#000" stroke-width="1.3" fill="none"/>
<rect x="172.00" y="305.00" width="18.60" height="26.50" fill="none" stroke="#111" stroke-width="0.7"/>
<rect x="191.00" y="329.00" width="18.00" height="2.50" fill="#1c1c1c" stroke="none"/>
<rect x="209.40" y="317.00" width="17.40" height="14.50" fill="#bfbfbf" stroke="none"/>
<line x1="181.40" y1="301.60" x2="181.40" y2="305.00" stroke="#444" stroke-width="0.9"/>
<line x1="180.50" y1="301.60" x2="182.30" y2="301.60" stroke="#444" stroke-width="0.6"/>
<line x1="200.00" y1="328.00" x2="200.00" y2="329.00" stroke="#444" stroke-width="0.9"/>
<line x1="199.10" y1="328.00" x2="200.90" y2="328.00" stroke="#444" stroke-width="0.6"/>
<line x1="218.00" y1="313.00" x2="218.00" y2="317.00" stroke="#444" stroke-width="0.9"/>
<line x1="217.10" y1="313.00" x2="218.90" y2="313.00" stroke="#444" stroke-width="0.6"/>
<text x="174.40" y="300.53" font-size="4.25" font-weight="bold" textLength="19.20" lengthAdjust="spacingAndGlyphs" fill="#222" stroke-width="0.3"><tspan font-style="italic">p</tspan>= 0.0020</text>
<text x="201.40" y="300.53" font-size="4.25" font-weight="bold" textLength="18.60" lengthAdjust="spacingAndGlyphs" fill="#222" stroke-width="0.3"><tspan font-style="italic">p</tspan>= 0.0010</text>
<text x="190.00" y="306.04" font-size="6.5" text-anchor="middle" fill="#222" stroke-width="0.3">*</text>
<text x="210.60" y="306.04" font-size="6.5" text-anchor="middle" fill="#222" stroke-width="0.3">*</text>
<text x="189.40" y="340.08" font-size="6.882000000000001" font-weight="bold" textLength="20.00" lengthAdjust="spacingAndGlyphs" stroke-width="0.5">miR-494</text>
<line x1="137.00" y1="353.50" x2="239.60" y2="353.50" stroke="#505050" stroke-width="1.0"/>
<line x1="137.00" y1="362.50" x2="239.60" y2="362.50" stroke="#505050" stroke-width="1.0"/>
<clipPath id="hc23"><rect x="138.00" y="347.70" width="3.00" height="3.00"/></clipPath>
<rect x="138.00" y="347.70" width="3.00" height="3.00" fill="#fff" stroke="none"/>
<path clip-path="url(#hc23)" d="M135.48,350.70 L138.00,347.70 M137.58,350.70 L140.10,347.70 M139.68,350.70 L142.20,347.70 M141.78,350.70 L144.30,347.70" stroke="#000" stroke-width="0.95" fill="none"/>
<rect x="138.00" y="347.70" width="3.00" height="3.00" fill="none" stroke="#111" stroke-width="0.7"/>
<text x="141.00" y="351.52" font-size="6.438000000000001" font-weight="bold" textLength="12.60" lengthAdjust="spacingAndGlyphs" stroke-width="0.6">RLN</text>
<text x="193.00" y="351.52" font-size="6.438000000000001" font-weight="bold" textLength="12.00" lengthAdjust="spacingAndGlyphs" stroke-width="0.6">11.17</text>
<rect x="137.85" y="357.35" width="3.30" height="3.30" fill="#1c1c1c" stroke="none"/>
<text x="142.00" y="361.32" font-size="6.438000000000001" font-weight="bold" textLength="15.00" lengthAdjust="spacingAndGlyphs" stroke-width="0.6">NMZL</text>
<text x="195.00" y="361.32" font-size="6.438000000000001" font-weight="bold" textLength="10.00" lengthAdjust="spacingAndGlyphs" stroke-width="0.6">1.14</text>
<rect x="138.85" y="366.95" width="2.70" height="3.30" fill="#bfbfbf" stroke="none"/>
<text x="143.00" y="370.92" font-size="6.438000000000001" font-weight="bold" textLength="6.00" lengthAdjust="spacingAndGlyphs" stroke-width="0.6">FL</text>
<text x="195.00" y="370.92" font-size="6.438000000000001" font-weight="bold" textLength="10.00" lengthAdjust="spacingAndGlyphs" stroke-width="0.6">6.47</text>
<text x="396.60" y="128.05" font-size="6.8" font-weight="bold" textLength="13.00" lengthAdjust="spacingAndGlyphs" stroke-width="0.45">RLN</text>
<rect x="416.60" y="123.40" width="9.20" height="5.80" fill="#fff" stroke="#111" stroke-width="1.2"/>
<path d="M418.00,128.30 L424.40,124.30" stroke="#111" stroke-width="2"/>
<text x="395.60" y="139.85" font-size="6.8" font-weight="bold" textLength="16.40" lengthAdjust="spacingAndGlyphs" stroke-width="0.45">NMZL</text>
<rect x="416.00" y="135.60" width="9.60" height="5.00" fill="#1c1c1c" stroke="none"/>
<text x="401.60" y="150.45" font-size="6.8" font-weight="bold" textLength="7.20" lengthAdjust="spacingAndGlyphs" stroke-width="0.45">FL</text>
<rect x="416.00" y="146.20" width="9.40" height="5.20" fill="#bfbfbf" stroke="none"/>
<text x="470.00" y="129.46" font-size="7.6" text-anchor="middle" fill="#333" stroke-width="0.3">*</text>
<text x="480.40" y="129.30" font-size="7.5" textLength="24.60" lengthAdjust="spacingAndGlyphs" fill="#444" stroke="#444" stroke-width="0.15"><tspan font-style="italic">p</tspan>&lt;0.05</text>
<text x="471.10" y="140.66" font-size="7.6" text-anchor="middle" fill="#333" stroke-width="0.3">**</text>
<text x="480.40" y="140.30" font-size="7.5" textLength="29.00" lengthAdjust="spacingAndGlyphs" fill="#444" stroke="#444" stroke-width="0.15"><tspan font-style="italic">p</tspan>&lt;0.005</text>
<text x="470.80" y="152.26" font-size="7.6" text-anchor="middle" fill="#333" stroke-width="0.3">***</text>
<text x="482.40" y="151.70" font-size="7.5" textLength="33.00" lengthAdjust="spacingAndGlyphs" fill="#444" stroke="#444" stroke-width="0.15"><tspan font-style="italic">p</tspan>&lt;0.0005</text>
<text x="270.40" y="323.05" font-size="6.8" font-weight="bold" textLength="13.00" lengthAdjust="spacingAndGlyphs" stroke-width="0.45">RLN</text>
<rect x="290.40" y="318.40" width="9.20" height="5.80" fill="#fff" stroke="#111" stroke-width="1.2"/>
<path d="M291.80,323.30 L298.20,319.30" stroke="#111" stroke-width="2"/>
<text x="269.40" y="334.85" font-size="6.8" font-weight="bold" textLength="16.40" lengthAdjust="spacingAndGlyphs" stroke-width="0.45">NMZL</text>
<rect x="289.80" y="330.60" width="9.60" height="5.00" fill="#1c1c1c" stroke="none"/>
<text x="275.40" y="345.45" font-size="6.8" font-weight="bold" textLength="7.20" lengthAdjust="spacingAndGlyphs" stroke-width="0.45">FL</text>
<rect x="289.80" y="341.20" width="9.40" height="5.20" fill="#bfbfbf" stroke="none"/>
<text x="343.80" y="324.46" font-size="7.6" text-anchor="middle" fill="#333" stroke-width="0.3">*</text>
<text x="354.20" y="324.30" font-size="7.5" textLength="24.60" lengthAdjust="spacingAndGlyphs" fill="#444" stroke="#444" stroke-width="0.15"><tspan font-style="italic">p</tspan>&lt;0.05</text>
<text x="344.90" y="335.66" font-size="7.6" text-anchor="middle" fill="#333" stroke-width="0.3">**</text>
<text x="354.20" y="335.30" font-size="7.5" textLength="29.00" lengthAdjust="spacingAndGlyphs" fill="#444" stroke="#444" stroke-width="0.15"><tspan font-style="italic">p</tspan>&lt;0.005</text>
<text x="344.60" y="347.26" font-size="7.6" text-anchor="middle" fill="#333" stroke-width="0.3">***</text>
<text x="356.20" y="346.70" font-size="7.5" textLength="33.00" lengthAdjust="spacingAndGlyphs" fill="#444" stroke="#444" stroke-width="0.15"><tspan font-style="italic">p</tspan>&lt;0.0005</text>
</g>
</svg>
</body></html>
